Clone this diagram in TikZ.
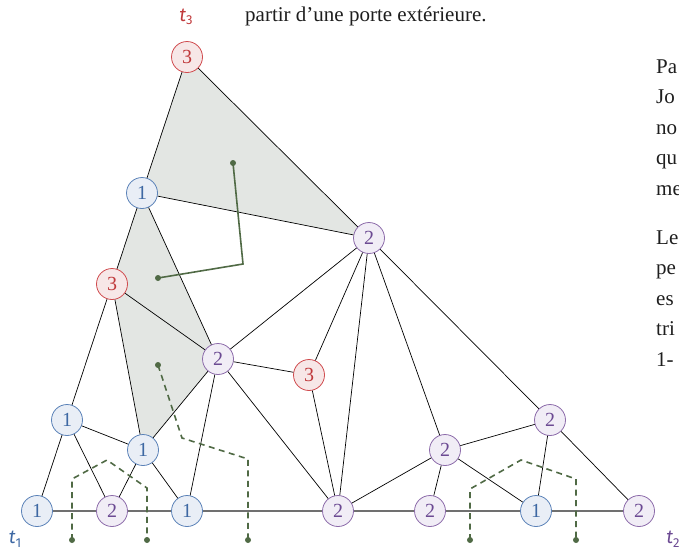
\documentclass[tikz,border=0pt]{standalone}
\usepackage{fontspec}
\setmainfont{Liberation Serif}
\newfontfamily\labfont{Fira Sans}
\usetikzlibrary{backgrounds}
\definecolor{onefill}{HTML}{E9EEF6}
\definecolor{onedraw}{HTML}{5B82B8}
\definecolor{onetext}{HTML}{3E68A3}
\definecolor{twofill}{HTML}{F1EDF6}
\definecolor{twodraw}{HTML}{8C6BAA}
\definecolor{twotext}{HTML}{6C4A93}
\definecolor{threefill}{HTML}{F7E7E7}
\definecolor{threedraw}{HTML}{D04B4E}
\definecolor{threetext}{HTML}{C0393B}
\definecolor{faceshade}{HTML}{E3E6E3}
\definecolor{pathgreen}{HTML}{506A45}
\definecolor{basegray}{HTML}{707070}
\definecolor{txt}{HTML}{1E1E1E}
\begin{document}
\begin{tikzpicture}[x=1pt,y=-1pt,
  vtx/.style={circle,minimum size=31pt,inner sep=0pt,line width=0.8pt,font=\fontsize{20}{20}\selectfont},
  vone/.style={vtx,fill=onefill,draw=onedraw,text=onetext},
  vtwo/.style={vtx,fill=twofill,draw=twodraw,text=twotext},
  vthree/.style={vtx,fill=threefill,draw=threedraw,text=threetext},
  edge/.style={line width=0.7pt,black},
  baseedge/.style={line width=1.2pt,basegray},
  gpath/.style={line width=1.6pt,pathgreen},
  gdash/.style={gpath,dash pattern=on 6pt off 4.5pt},
  gdot/.style={circle,fill=pathgreen,inner sep=0pt,minimum size=6pt},
  face/.style={fill=faceshade},
  para/.style={anchor=base west,inner sep=0pt,text=txt,font=\fontsize{21}{21}\selectfont},
  tlab/.style={inner sep=0pt,font=\labfont\fontsize{19}{19}\selectfont}
]
\useasboundingbox (0,0) rectangle (679,547);
\clip (0,0) rectangle (679,547);

% vertices
\node[vthree] (T3) at (187,57) {3};
\node[vone]   (A)  at (142,193) {1};
\node[vtwo]   (B)  at (369,238) {2};
\node[vthree] (C)  at (112,284) {3};
\node[vtwo]   (D)  at (218,359) {2};
\node[vthree] (E)  at (309,375) {3};
\node[vone]   (F)  at (67,420) {1};
\node[vone]   (G)  at (143,450) {1};
\node[vtwo]   (H)  at (445,450) {2};
\node[vtwo]   (I)  at (550,420) {2};
\node[vone]   (b1) at (37,511) {1};
\node[vtwo]   (b2) at (112,511) {2};
\node[vone]   (b3) at (187,511) {1};
\node[vtwo]   (b4) at (338,511) {2};
\node[vtwo]   (b5) at (430,511) {2};
\node[vone]   (b6) at (536,511) {1};
\node[vtwo]   (b7) at (639,511) {2};

% shaded faces
\begin{pgfonlayer}{background}
\path[face] (T3.center) -- (A.center) -- (B.center) -- cycle;
\path[face] (A.center) -- (C.center) -- (D.center) -- cycle;
\path[face] (C.center) -- (G.center) -- (D.center) -- cycle;
\end{pgfonlayer}

% edges
\draw[edge] (T3) -- (A);
\draw[edge] (T3) -- (B);
\draw[edge] (A) -- (B);
\draw[edge] (A) -- (C);
\draw[edge] (A) -- (D);
\draw[edge] (C) -- (D);
\draw[edge] (C) -- (F);
\draw[edge] (C) -- (G);
\draw[edge] (D) -- (G);
\draw[edge] (D) -- (B);
\draw[edge] (D) -- (E);
\draw[edge] (D) -- (b3);
\draw[edge] (D) -- (b4);
\draw[edge] (E) -- (B);
\draw[edge] (E) -- (b4);
\draw[edge] (B) -- (b4);
\draw[edge] (B) -- (H);
\draw[edge] (B) -- (I);
\draw[edge] (F) -- (b1);
\draw[edge] (F) -- (b2);
\draw[edge] (F) -- (G);
\draw[edge] (G) -- (b2);
\draw[edge] (G) -- (b3);
\draw[edge] (H) -- (b4);
\draw[edge] (H) -- (b5);
\draw[edge] (H) -- (b6);
\draw[edge] (H) -- (I);
\draw[edge] (I) -- (b6);
\draw[edge] (I) -- (b7);
\draw[baseedge] (b1) -- (b2);
\draw[baseedge] (b2) -- (b3);
\draw[baseedge] (b3) -- (b4);
\draw[baseedge] (b4) -- (b5);
\draw[baseedge] (b5) -- (b6);
\draw[baseedge] (b6) -- (b7);

% green dual paths
\node[gdot] (g1) at (233,163) {};
\node[gdot] (g2) at (158,278) {};
\coordinate (g1c) at (243,264);
\draw[gpath] (g1.center) -- (g1c) -- (g2.center);

\node[gdot] (d1) at (158,365) {};
\node[gdot] (d1e) at (248,540) {};
\coordinate (d1a) at (182,438);
\coordinate (d1b) at (248,459);
\draw[gdash] (d1.center) -- (d1a) -- (d1b) -- (d1e.center);

\node[gdot] (d2s) at (72,540) {};
\node[gdot] (d2e) at (147,540) {};
\coordinate (d2a) at (72,479);
\coordinate (d2b) at (107,460);
\coordinate (d2c) at (147,488);
\draw[gdash] (d2s.center) -- (d2a) -- (d2b) -- (d2c) -- (d2e.center);

\node[gdot] (d3s) at (470,540) {};
\node[gdot] (d3e) at (576,540) {};
\coordinate (d3a) at (470,489);
\coordinate (d3b) at (521,460);
\coordinate (d3c) at (576,479);
\draw[gdash] (d3s.center) -- (d3a) -- (d3b) -- (d3c) -- (d3e.center);

% terminal labels
\node[tlab,text=threetext] (t3) at (186,17) {\itshape t\raisebox{-3.5pt}{\upshape\fontsize{13}{13}\selectfont 3}};
\node[tlab,text=onetext] (t1) at (15,539) {\itshape t\raisebox{-3.5pt}{\upshape\fontsize{13}{13}\selectfont 1}};
\node[tlab,text=twotext] (t2) at (673,539) {\itshape t\raisebox{-3.5pt}{\upshape\fontsize{13}{13}\selectfont 2}};

% surrounding text
\node[para] (p0) at (245,21) {partir d’une porte extérieure.};
\node[para] (p1) at (656,73) {Pa};
\node[para] (p2) at (656,103) {Jo};
\node[para] (p3) at (656,134) {no};
\node[para] (p4) at (656,164) {qu};
\node[para] (p5) at (656,195) {me};
\node[para] (p6) at (656,244) {Le};
\node[para] (p7) at (656,274) {pe};
\node[para] (p8) at (656,305) {es};
\node[para] (p9) at (656,335) {tri};
\node[para] (p10) at (656,366) {1-};
\end{tikzpicture}
\end{document}
